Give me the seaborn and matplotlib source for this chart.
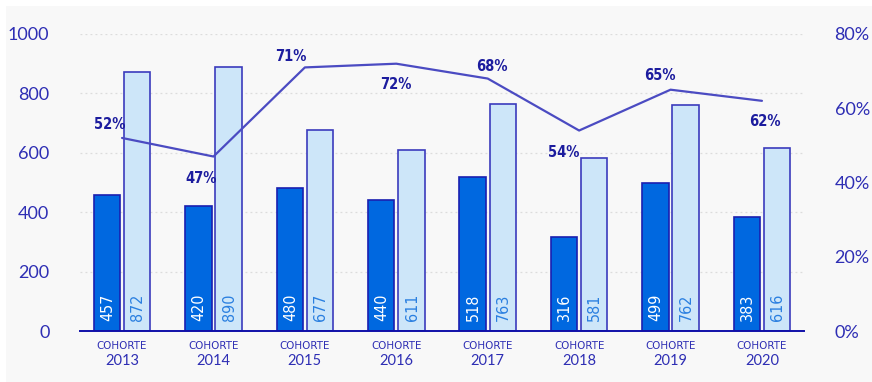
import numpy as np
import pandas as pd
import matplotlib
matplotlib.use("Agg")
import matplotlib.pyplot as plt
from matplotlib.patches import Rectangle
from matplotlib.transforms import blended_transform_factory
import seaborn as sns

# Cohort data
years = ["2013", "2014", "2015", "2016", "2017", "2018", "2019", "2020"]
dark_values = [457, 420, 480, 440, 518, 316, 499, 383]
light_values = [872, 890, 677, 611, 763, 581, 762, 616]
pct_values = [52, 47, 71, 72, 68, 54, 65, 62]
left_ticks = [0, 200, 400, 600, 800, 1000]
right_ticks = [0, 20, 40, 60, 80]

# Placement of each percentage label relative to its point (points)
pct_offsets = [(-9, 10), (-9, -16), (-10, 8), (0, -15), (3, 9), (-11, -16), (-8, 10), (2, -15)]

DARK = "#0068e0"
DARK_EDGE = "#1a1fb0"
LIGHT = "#cde6f9"
LIGHT_EDGE = "#3b3bbd"
LINE = "#4b4bc2"
TICK = "#2e2eb4"
PCT = "#1c1c9e"
GRID = "#dcdcdc"
PANEL = "#f8f8f8"

sns.set_theme(style="white")
plt.rcParams["font.family"] = ["DejaVu Sans"]

df = pd.DataFrame({
    "year": years * 2,
    "value": dark_values + light_values,
    "serie": ["a"] * len(years) + ["b"] * len(years),
})

fig = plt.figure(figsize=(8.72, 3.82), dpi=100, facecolor="white")
fig.patches.append(Rectangle((6 / 872, 0), 1, 1 - 6 / 382, transform=fig.transFigure,
                             facecolor=PANEL, edgecolor="none", zorder=-10))

ax = fig.add_axes([80 / 872, 51 / 382, 724 / 872, 297 / 382])
ax.set_facecolor("none")

sns.barplot(data=df, x="year", y="value", hue="serie", order=years,
            palette=[DARK, LIGHT], saturation=1, width=0.66, gap=0.12, ax=ax,
            legend=False, linewidth=1.2, zorder=3)

# bar edge colours and value labels
for cont, edge, txtcol, vals in zip(ax.containers, [DARK_EDGE, LIGHT_EDGE],
                                    ["white", "#2a7fe0"], [dark_values, light_values]):
    for bar, v in zip(cont, vals):
        bar.set_edgecolor(edge)
        ax.annotate(f"{v}", (bar.get_x() + bar.get_width() / 2, 0),
                    xytext=(0.5, 7), textcoords="offset points",
                    ha="center", va="bottom", rotation=90, fontsize=11.5,
                    color=txtcol, family=["DejaVu Sans"], fontstretch="condensed",
                    zorder=5)

ax.set_xlim(-0.46, 7.46)
ax.set_ylim(0, 1000)
ax.set_yticks(left_ticks)
ax.set_yticklabels([str(t) for t in left_ticks], family=["Lato", "DejaVu Sans"],
                   fontsize=13, color=TICK)
ax.tick_params(axis="y", length=0, pad=22)
ax.tick_params(axis="x", length=0, labelbottom=False)
ax.set_xlabel("")
ax.set_ylabel("")
for t in left_ticks[1:]:
    ax.axhline(t, color=GRID, lw=0.9, ls=(0, (1.5, 2.5)), zorder=1)
for s in ["left", "right", "top"]:
    ax.spines[s].set_visible(False)
ax.spines["bottom"].set_color("#1010a8")
ax.spines["bottom"].set_linewidth(1.4)
ax.spines["bottom"].set_zorder(6)

# category labels
trans = blended_transform_factory(ax.transData, ax.transAxes)
for i, y in enumerate(years):
    ax.text(i, -15 / 297, "COHORTE", transform=trans, ha="center", va="center",
            fontsize=7.4, color=TICK, family=["DejaVu Sans"])
    ax.text(i, -30 / 297, y, transform=trans, ha="center", va="center",
            fontsize=10.5, color=TICK, family=["Lato", "DejaVu Sans"])

# rate line on the secondary axis
ax2 = ax.twinx()
sns.lineplot(x=np.arange(len(years)), y=pct_values, ax=ax2, color=LINE, lw=1.6, zorder=4)
ax2.set_xlim(-0.46, 7.46)
ax2.set_ylim(0, 80)
ax2.set_yticks(right_ticks)
ax2.set_yticklabels([f"{t}%" for t in right_ticks], family=["Lato", "DejaVu Sans"],
                    fontsize=13, color=TICK)
ax2.tick_params(axis="y", length=0, pad=22)
ax2.grid(False)
for s in ["left", "right", "top", "bottom"]:
    ax2.spines[s].set_visible(False)

for i, (p, off) in enumerate(zip(pct_values, pct_offsets)):
    ax2.annotate(f"{p}%", (i, p), xytext=off, textcoords="offset points",
                 ha="center", va="center", fontsize=10.5, fontweight="semibold",
                 color=PCT, family=["DejaVu Sans"], fontstretch="condensed")

fig.savefig("out.png", dpi=100, facecolor="white")
